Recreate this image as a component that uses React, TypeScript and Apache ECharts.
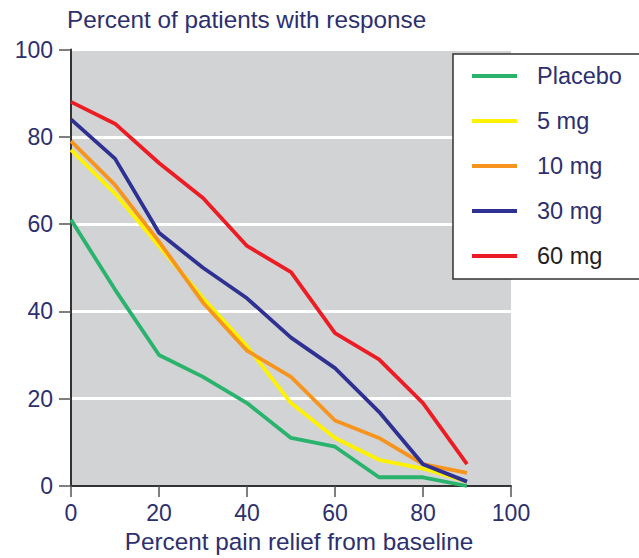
import React, { useEffect, useRef } from "react";
import * as echarts from "echarts";

const reliefLevels = [0, 10, 20, 30, 40, 50, 60, 70, 80, 90];
const seriesNames = ["Placebo", "5 mg", "10 mg", "30 mg", "60 mg"];
const seriesColors = ["#29b36c", "#fff200", "#f7941d", "#2e3192", "#ed1c24"];
const placebo = [61, 45, 30, 25, 19, 11, 9, 2, 2, 0];
const mg5 = [77, 67, 55, 43, 32, 19, 11, 6, 4, 1];
const mg10 = [79, 69, 56, 42, 31, 25, 15, 11, 5, 3];
const mg30 = [84, 75, 58, 50, 43, 34, 27, 17, 5, 1];
const mg60 = [88, 83, 74, 66, 55, 49, 35, 29, 19, 5];
const allValues = [placebo, mg5, mg10, mg30, mg60];
const yTicks = [0, 20, 40, 60, 80, 100];

const textColor = "#2d2f6e";
const font = "'Liberation Sans', Arial, Helvetica, sans-serif";

export default function App() {
  const ref = useRef<HTMLDivElement>(null);
  useEffect(() => {
    if (!ref.current) return;
    const chart = echarts.init(ref.current, undefined, { renderer: "svg" });
    const legendGraphics: any[] = [
      {
        type: "rect",
        shape: { x: 453, y: 54, width: 200, height: 225 },
        style: { fill: "#fff", stroke: "#333", lineWidth: 1.5 },
        z: 10,
      },
    ];
    seriesNames.forEach((name, i) => {
      const cy = 76 + 45 * i;
      legendGraphics.push({
        type: "line",
        shape: { x1: 472, y1: cy, x2: 517, y2: cy },
        style: { stroke: seriesColors[i], lineWidth: 4 },
        z: 11,
      });
      legendGraphics.push({
        type: "text",
        x: 537,
        y: cy,
        style: {
          text: name,
          fill: i === 4 ? "#222" : textColor,
          font: `23.5px ${font}`,
          textVerticalAlign: "middle",
          verticalAlign: "middle",
        },
        z: 11,
      });
    });
    chart.setOption({
      animation: false,
      title: {
        text: "Percent of patients with response",
        left: 62,
        top: 2,
        textStyle: { color: textColor, fontSize: 24.3, fontWeight: "normal", fontFamily: font },
      },
      grid: {
        left: 71,
        right: 128,
        top: 49.5,
        bottom: 67.5,
        show: true,
        backgroundColor: "#d1d3d4",
        borderWidth: 0,
      },
      xAxis: {
        type: "value",
        min: 0,
        max: 100,
        interval: 20,
        name: "Percent pain relief from baseline",
        nameLocation: "middle",
        nameGap: 43,
        nameTextStyle: { color: textColor, fontSize: 24.3, fontFamily: font, padding: [0, 0, 0, 16] },
        axisLine: { show: true, onZero: false, lineStyle: { color: "#333", width: 2 } },
        axisTick: { show: true, length: 11, lineStyle: { color: "#555", width: 1.5 } },
        axisLabel: { color: textColor, fontSize: 23, fontFamily: font, margin: 15 },
        splitLine: { show: false },
      },
      yAxis: {
        type: "value",
        min: 0,
        max: 100,
        interval: 20,
        axisLine: { show: true, onZero: false, lineStyle: { color: "#333", width: 2 } },
        axisTick: { show: true, length: 12, lineStyle: { color: "#555", width: 1.5 } },
        axisLabel: {
          color: textColor,
          fontSize: 23,
          fontFamily: font,
          margin: 18,
          formatter: (v: number) => (yTicks.includes(v) ? String(v) : ""),
        },
        splitLine: { show: true, lineStyle: { color: "#ffffff", width: 3 } },
      },
      series: allValues.map((vals, i) => ({
        type: "line",
        name: seriesNames[i],
        data: vals.map((v, j) => [reliefLevels[j], v]),
        showSymbol: false,
        symbol: "none",
        lineStyle: { color: seriesColors[i], width: 3.8 },
        itemStyle: { color: seriesColors[i] },
        z: 3,
      })),
      graphic: legendGraphics,
    });
    return () => chart.dispose();
  }, []);
  return (
    <div
      ref={ref}
      style={{ position: "fixed", left: 0, top: 0, width: 639, height: 558, background: "#fff" }}
    />
  );
}
